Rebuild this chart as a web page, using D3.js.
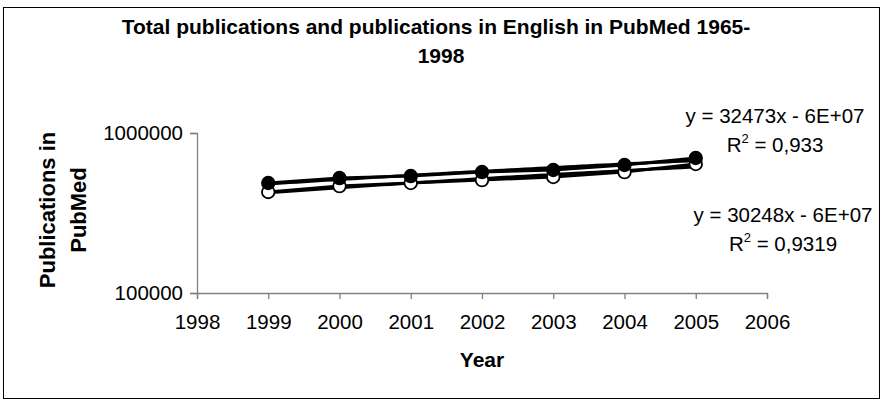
<!DOCTYPE html>
<html>
<head>
<meta charset="utf-8">
<script src="https://cdn.jsdelivr.net/npm/d3@7"></script>
<style>
  body { margin: 0; background: #fff; }
  text { font-family: "Liberation Sans", Arial, sans-serif; fill: #000; }
</style>
</head>
<body>
<script>
// data
var years = [1999, 2000, 2001, 2002, 2003, 2004, 2005];
var totalPubs = [487000, 523000, 538000, 570000, 587000, 631000, 698000];
var englishPubs = [428000, 466000, 487000, 508000, 531000, 570000, 640000];
var xTicks = [1998, 1999, 2000, 2001, 2002, 2003, 2004, 2005, 2006];
var yTicks = [100000, 1000000];
var eqTotal = ["y = 32473x - 6E+07", "0,933"];
var eqEnglish = ["y = 30248x - 6E+07", "0,9319"];

var W = 883, H = 401;
var FS = 20.5;
var svg = d3.select("body").append("svg").attr("width", W).attr("height", H);

// outer frame
svg.append("rect").attr("x", 3.5).attr("y", 7.5).attr("width", 876).attr("height", 391)
    .attr("fill", "none").attr("stroke", "#000").attr("stroke-width", 1);

var x = d3.scaleLinear().domain([1998, 2006]).range([197, 767]);
var y = d3.scaleLog().domain([100000, 1000000]).range([293, 133]);

// axes
var xAxis = d3.axisBottom(x).tickValues(xTicks).tickFormat(d3.format("d")).tickSizeOuter(0).tickSize(6).tickPadding(15);
var yAxis = d3.axisLeft(y).tickValues(yTicks).tickFormat(d3.format("d")).tickSizeOuter(0).tickSize(7).tickPadding(7);

var gx = svg.append("g").attr("transform", "translate(0,293)").call(xAxis);
var gy = svg.append("g").attr("transform", "translate(197,0)").call(yAxis);
[gx, gy].forEach(function (g) {
    g.selectAll("path, line").attr("stroke", "#808080").attr("stroke-width", 1.3);
    g.selectAll("text").attr("font-size", FS).attr("font-family", "Liberation Sans, Arial, sans-serif").attr("fill", "#000");
});

// least squares trendline, drawn through the log scale
function trend(vals) {
    var n = years.length, mx = d3.mean(years), my = d3.mean(vals);
    var sxy = 0, sxx = 0;
    for (var i = 0; i < n; i++) {
        sxy += (years[i] - mx) * (vals[i] - my);
        sxx += (years[i] - mx) * (years[i] - mx);
    }
    var b = sxy / sxx, a = my - b * mx;
    return d3.range(1999, 2005.001, 0.1).map(function (t) { return [t, a + b * t]; });
}

var line = d3.line().x(function (d) { return x(d[0]); }).y(function (d) { return y(d[1]); });

function drawSeries(vals, filled) {
    var pts = years.map(function (yr, i) { return [yr, vals[i]]; });
    svg.append("path").datum(trend(vals)).attr("d", line)
        .attr("fill", "none").attr("stroke", "#000").attr("stroke-width", 3);
    svg.append("path").datum(pts).attr("d", line)
        .attr("fill", "none").attr("stroke", "#000").attr("stroke-width", 3);
    svg.selectAll(null).data(pts).enter().append("circle")
        .attr("cx", function (d) { return x(d[0]); })
        .attr("cy", function (d) { return y(d[1]); })
        .attr("r", 6.3)
        .attr("fill", filled ? "#000" : "#fff")
        .attr("stroke", "#000").attr("stroke-width", 1.8);
}
drawSeries(englishPubs, false);
drawSeries(totalPubs, true);

// equation labels
function eqLabel(eq, cx, by) {
    svg.append("text").attr("x", cx).attr("y", by).attr("text-anchor", "middle")
        .attr("font-size", FS).text(eq[0]);
    var t = svg.append("text").attr("x", cx).attr("y", by + 29).attr("text-anchor", "middle")
        .attr("font-size", FS);
    t.append("tspan").text("R");
    t.append("tspan").attr("font-size", 13).attr("dy", -9).text("2");
    t.append("tspan").attr("dy", 9).text(" = " + eq[1]);
}
eqLabel(eqTotal, 775, 123);
eqLabel(eqEnglish, 783, 222);

// title
svg.append("text").attr("x", 436).attr("y", 34).attr("text-anchor", "middle")
    .attr("font-size", 21).attr("font-weight", "bold")
    .text("Total publications and publications in English in PubMed 1965-");
svg.append("text").attr("x", 441).attr("y", 63).attr("text-anchor", "middle")
    .attr("font-size", 21).attr("font-weight", "bold").text("1998");

// axis titles
svg.append("text").attr("x", 482).attr("y", 367).attr("text-anchor", "middle")
    .attr("font-size", 21).attr("font-weight", "bold").text("Year");
var yt = svg.append("g").attr("transform", "translate(0,210) rotate(-90)");
yt.append("text").attr("x", 0).attr("y", 55).attr("text-anchor", "middle")
    .attr("font-size", 22).attr("font-weight", "bold").text("Publications in");
yt.append("text").attr("x", 0).attr("y", 86).attr("text-anchor", "middle")
    .attr("font-size", 22).attr("font-weight", "bold").text("PubMed");
</script>
</body>
</html>
